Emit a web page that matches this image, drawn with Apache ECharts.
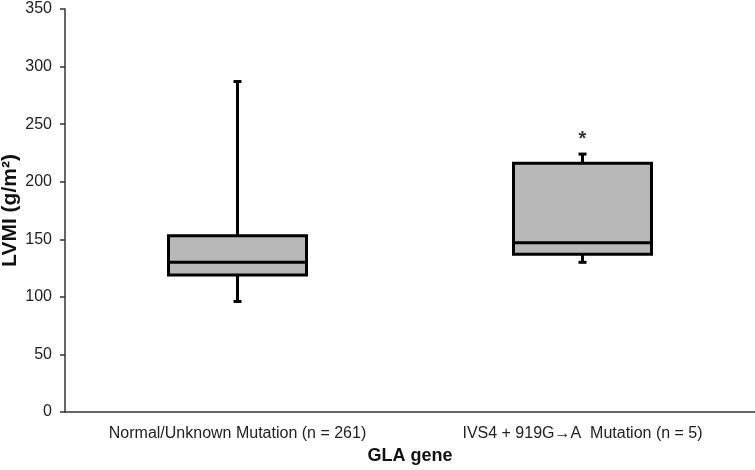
<!DOCTYPE html>
<html>
<head>
<meta charset="utf-8">
<script src="https://cdn.jsdelivr.net/npm/echarts@6/dist/echarts.min.js"></script>
<style>
  html, body { margin: 0; padding: 0; background: #fff; }
  #chart { width: 755px; height: 470px; }
</style>
</head>
<body>
<div id="chart"></div>
<script>
// groups on the x axis
const categories = ['Normal/Unknown Mutation (n = 261)', 'IVS4 + 919G\u2192A  Mutation (n = 5)'];
// box plot stats (LVMI, g/m2)
const whiskerLow = [96, 130];
const q1 = [119, 137];
const median = [130, 147];
const q3 = [153, 216];
const whiskerHigh = [287, 224];
// significance marker
const starPoints = [[1, 237]];
const yTicks = { min: 0, max: 350, interval: 50 };

const boxData = categories.map((c, i) => [i, whiskerLow[i], q1[i], median[i], q3[i], whiskerHigh[i]]);

const chart = echarts.init(document.getElementById('chart'));

const lineStyle = { stroke: '#000', lineWidth: 3 };

function renderBox(params, api) {
  const idx = api.value(0);
  const lo = api.coord([idx, api.value(1)]);
  const b1 = api.coord([idx, api.value(2)]);
  const md = api.coord([idx, api.value(3)]);
  const b3 = api.coord([idx, api.value(4)]);
  const hi = api.coord([idx, api.value(5)]);
  const halfW = api.size([1, 0])[0] * 0.2;
  const cap = 4;
  const x = lo[0];
  return {
    type: 'group',
    children: [
      { type: 'line', shape: { x1: x, y1: hi[1], x2: x, y2: b3[1] }, style: lineStyle },
      { type: 'line', shape: { x1: x, y1: b1[1], x2: x, y2: lo[1] }, style: lineStyle },
      { type: 'line', shape: { x1: x - cap, y1: hi[1], x2: x + cap, y2: hi[1] }, style: lineStyle },
      { type: 'line', shape: { x1: x - cap, y1: lo[1], x2: x + cap, y2: lo[1] }, style: lineStyle },
      {
        type: 'rect',
        shape: { x: x - halfW, y: b3[1], width: halfW * 2, height: b1[1] - b3[1] },
        style: { fill: '#b8b8b8', stroke: '#000', lineWidth: 3 }
      },
      { type: 'line', shape: { x1: x - halfW, y1: md[1], x2: x + halfW, y2: md[1] }, style: lineStyle }
    ]
  };
}

chart.setOption({
  animation: false,
  grid: { left: 65, right: 0, top: 9, bottom: 58, outerBoundsMode: 'none' },
  xAxis: {
    type: 'category',
    data: categories,
    name: 'GLA gene',
    nameLocation: 'middle',
    nameGap: 35,
    nameMoveOverlap: false,
    nameTextStyle: { fontFamily: 'Liberation Sans', fontWeight: 'bold', fontSize: 18, color: '#111' },
    axisLine: { lineStyle: { color: '#333', width: 1.5 } },
    axisTick: { show: false },
    axisLabel: { fontFamily: 'Liberation Sans', fontSize: 16, color: '#222', margin: 14 },
    splitLine: { show: false }
  },
  yAxis: {
    type: 'value',
    min: yTicks.min,
    max: yTicks.max,
    interval: yTicks.interval,
    name: 'LVMI (g/m\u00b2)',
    nameLocation: 'middle',
    nameGap: 44,
    nameMoveOverlap: false,
    nameTextStyle: { fontFamily: 'Liberation Sans', fontWeight: 'bold', fontSize: 21, color: '#111' },
    axisLine: { show: true, lineStyle: { color: '#333', width: 1.5 } },
    axisTick: { show: true, length: 5, lineStyle: { color: '#333', width: 1.5 } },
    axisLabel: { fontFamily: 'Liberation Sans', fontSize: 16, color: '#222', margin: 13 },
    splitLine: { show: false }
  },
  series: [
    {
      type: 'custom',
      renderItem: renderBox,
      encode: { x: 0, y: [1, 2, 3, 4, 5] },
      data: boxData
    },
    {
      type: 'scatter',
      symbolSize: 0,
      data: starPoints,
      label: {
        show: true,
        formatter: '*',
        position: 'inside',
        fontFamily: 'Liberation Sans',
        fontWeight: 'bold',
        fontSize: 20,
        color: '#000'
      }
    }
  ]
});
</script>
</body>
</html>
